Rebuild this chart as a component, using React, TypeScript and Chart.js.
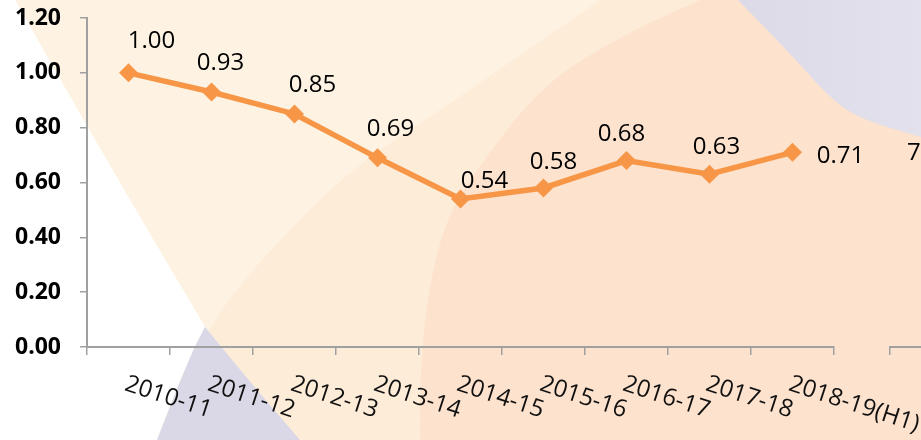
import React, { useEffect, useRef } from "react";
import { Chart, registerables } from "chart.js";

Chart.register(...registerables);

// ---- data ----
const categories = [
  "2010-11",
  "2011-12",
  "2012-13",
  "2013-14",
  "2014-15",
  "2015-16",
  "2016-17",
  "2017-18",
  "2018-19(H1)",
];
const values = [1.0, 0.93, 0.85, 0.69, 0.54, 0.58, 0.68, 0.63, 0.71];
const yMin = 0;
const yMax = 1.2;
const yStep = 0.2;
// text of the neighbouring (cut-off) chart's first label
const neighbourLabel = "7.";

// ---- style ----
const ORANGE = "#f79646";
const AXIS = "#a0a0a0";
const FONT = '"Open Sans", "Noto Sans", sans-serif';
const LABEL_SIZE = 24;
// label nudges relative to each point (label centre), styling only
const labelNudges: [number, number][] = [
  [23, -33],
  [9, -31],
  [18, -31],
  [13, -30],
  [24, -20],
  [10, -28],
  [-5, -28],
  [7, -29],
  [48, 2],
];

type P = [number, number];
function smooth(ctx: CanvasRenderingContext2D, pts: P[], move: boolean) {
  if (move) ctx.moveTo(pts[0][0], pts[0][1]);
  else ctx.lineTo(pts[0][0], pts[0][1]);
  for (let i = 1; i < pts.length - 1; i++) {
    const mx = (pts[i][0] + pts[i + 1][0]) / 2;
    const my = (pts[i][1] + pts[i + 1][1]) / 2;
    ctx.quadraticCurveTo(pts[i][0], pts[i][1], mx, my);
  }
  const l = pts[pts.length - 1];
  ctx.lineTo(l[0], l[1]);
}

const bgPlugin = {
  id: "decorBg",
  beforeDraw(chart: any) {
    const ctx: CanvasRenderingContext2D = chart.ctx;
    const W = chart.width;
    const H = chart.height;
    ctx.save();
    // outer cream band
    ctx.fillStyle = "#fef3e2";
    ctx.fillRect(0, 0, W, H);
    // inner pale band
    ctx.fillStyle = "#fdecd8";
    ctx.beginPath();
    smooth(
      ctx,
      [
        [150, 440],
        [204, 333],
        [254, 267],
        [345, 173],
        [440, 110],
        [503, 67],
        [600, 0],
      ],
      true
    );
    ctx.lineTo(W, 0);
    ctx.lineTo(W, H);
    ctx.closePath();
    ctx.fill();
    // peach
    ctx.fillStyle = "#fde2cd";
    ctx.beginPath();
    smooth(
      ctx,
      [
        [420, 440],
        [419, 350],
        [440, 230],
        [478, 167],
        [544, 83],
        [627, 33],
        [700, 0],
      ],
      true
    );
    ctx.lineTo(W, 0);
    ctx.lineTo(W, H);
    ctx.closePath();
    ctx.fill();
    // lavender top-right
    const g = ctx.createLinearGradient(740, 0, W, 0);
    g.addColorStop(0, "#dcdae7");
    g.addColorStop(1, "#e2e1ec");
    ctx.fillStyle = g;
    ctx.beginPath();
    smooth(
      ctx,
      [
        [738, 0],
        [787, 50],
        [830, 98],
        [860, 119],
        [921, 137],
      ],
      true
    );
    ctx.lineTo(W, 0);
    ctx.closePath();
    ctx.fill();
    // white wedge left
    ctx.fillStyle = "#ffffff";
    ctx.beginPath();
    ctx.moveTo(0, 0);
    smooth(
      ctx,
      [
        [15, 0],
        [72, 100],
        [130, 200],
        [205, 327],
      ],
      false
    );
    smooth(
      ctx,
      [
        [205, 327],
        [188, 360],
        [157, 440],
      ],
      false
    );
    ctx.lineTo(0, H);
    ctx.closePath();
    ctx.fill();
    // lavender bottom-left
    ctx.fillStyle = "#dad8e7";
    ctx.beginPath();
    ctx.moveTo(205, 327);
    smooth(
      ctx,
      [
        [205, 327],
        [250, 382],
        [300, 440],
      ],
      false
    );
    ctx.lineTo(157, 440);
    smooth(
      ctx,
      [
        [157, 440],
        [188, 360],
        [205, 327],
      ],
      false
    );
    ctx.closePath();
    ctx.fill();
    ctx.restore();
  },
};

const labelPlugin = {
  id: "valueAndCategoryLabels",
  afterDatasetsDraw(chart: any) {
    const ctx: CanvasRenderingContext2D = chart.ctx;
    const meta = chart.getDatasetMeta(0);
    ctx.save();
    ctx.fillStyle = "#000";
    ctx.font = `${LABEL_SIZE}px ${FONT}`;
    ctx.textAlign = "center";
    ctx.textBaseline = "alphabetic";
    meta.data.forEach((pt: any, i: number) => {
      const [dx, dy] = labelNudges[i] || [0, -30];
      ctx.fillText(values[i].toFixed(2), pt.x + dx, pt.y + dy + 0.357 * LABEL_SIZE);
    });
    const xs = chart.scales.x;
    ctx.fillStyle = "#111";
    ctx.font = `${LABEL_SIZE}px ${FONT}`;
    ctx.textAlign = "left";
    categories.forEach((c, i) => {
      const x = xs.getPixelForValue(i);
      ctx.save();
      ctx.translate(x - 5, xs.top + 43);
      ctx.rotate((18 * Math.PI) / 180);
      ctx.fillText(c, 0, 0);
      ctx.restore();
    });
    ctx.restore();
  },
};

const neighbourPlugin = {
  id: "neighbourLabel",
  afterDraw(chart: any) {
    const ctx: CanvasRenderingContext2D = chart.ctx;
    const y = chart.scales.y.getPixelForValue(values[values.length - 1]);
    ctx.save();
    ctx.fillStyle = "#000";
    ctx.font = `${LABEL_SIZE}px ${FONT}`;
    ctx.textAlign = "left";
    ctx.textBaseline = "alphabetic";
    ctx.fillText(neighbourLabel, chart.chartArea.left + 17, y + 0.357 * LABEL_SIZE - 1);
    ctx.restore();
  },
};

const xAxisCommon = {
  type: "category",
  offset: true,
  grid: {
    offset: true,
    drawOnChartArea: false,
    drawTicks: true,
    tickLength: 8,
    color: AXIS,
    lineWidth: 1.5,
  },
  border: { display: true, color: AXIS, width: 2 },
  ticks: { display: false },
  afterFit: (s: any) => {
    s.height = 93;
  },
};

export default function App() {
  const ref = useRef<HTMLCanvasElement>(null);
  const ref2 = useRef<HTMLCanvasElement>(null);

  useEffect(() => {
    const c1 = new Chart(ref.current as HTMLCanvasElement, {
      type: "line",
      data: {
        labels: categories,
        datasets: [
          {
            data: values,
            borderColor: ORANGE,
            backgroundColor: ORANGE,
            borderWidth: 5.5,
            pointStyle: "rectRot",
            pointRadius: 9.5,
            pointBorderWidth: 0,
            pointBackgroundColor: ORANGE,
            pointBorderColor: ORANGE,
            tension: 0,
            clip: false as any,
          },
        ],
      },
      options: {
        responsive: false,
        animation: false,
        layout: { padding: { top: 18, right: 87, left: 0, bottom: 0 } },
        plugins: {
          legend: { display: false },
          tooltip: { enabled: false },
          title: { display: false },
        },
        scales: {
          x: xAxisCommon,
          y: {
            min: yMin,
            max: yMax,
            ticks: {
              stepSize: yStep,
              callback: (v: any) => Number(v).toFixed(2),
              font: { family: FONT, size: 23, weight: "bold" },
              color: "#000",
              padding: 19,
            },
            grid: {
              drawOnChartArea: false,
              drawTicks: true,
              tickLength: 7,
              color: AXIS,
              lineWidth: 1.5,
            },
            border: { display: true, color: AXIS, width: 2 },
            afterFit: (s: any) => {
              s.width = 87;
              s.paddingTop = 0;
              s.paddingBottom = 0;
            },
          },
        },
      },
      plugins: [bgPlugin, labelPlugin],
    } as any);

    const c2 = new Chart(ref2.current as HTMLCanvasElement, {
      type: "line",
      data: { labels: [""], datasets: [{ data: [] }] },
      options: {
        responsive: false,
        animation: false,
        layout: { padding: { top: 18, left: 30, right: 0, bottom: 0 } },
        plugins: { legend: { display: false }, tooltip: { enabled: false } },
        scales: {
          x: xAxisCommon,
          y: { display: false, min: yMin, max: yMax },
        },
      },
      plugins: [neighbourPlugin],
    } as any);

    return () => {
      c1.destroy();
      c2.destroy();
    };
  }, []);

  return (
    <div
      style={{
        position: "fixed",
        left: 0,
        top: 0,
        width: 921,
        height: 440,
        overflow: "hidden",
      }}
    >
      <canvas
        ref={ref}
        width={921}
        height={440}
        style={{ position: "absolute", left: 0, top: 0 }}
      />
      <canvas
        ref={ref2}
        width={200}
        height={440}
        style={{ position: "absolute", left: 860, top: 0 }}
      />
    </div>
  );
}
